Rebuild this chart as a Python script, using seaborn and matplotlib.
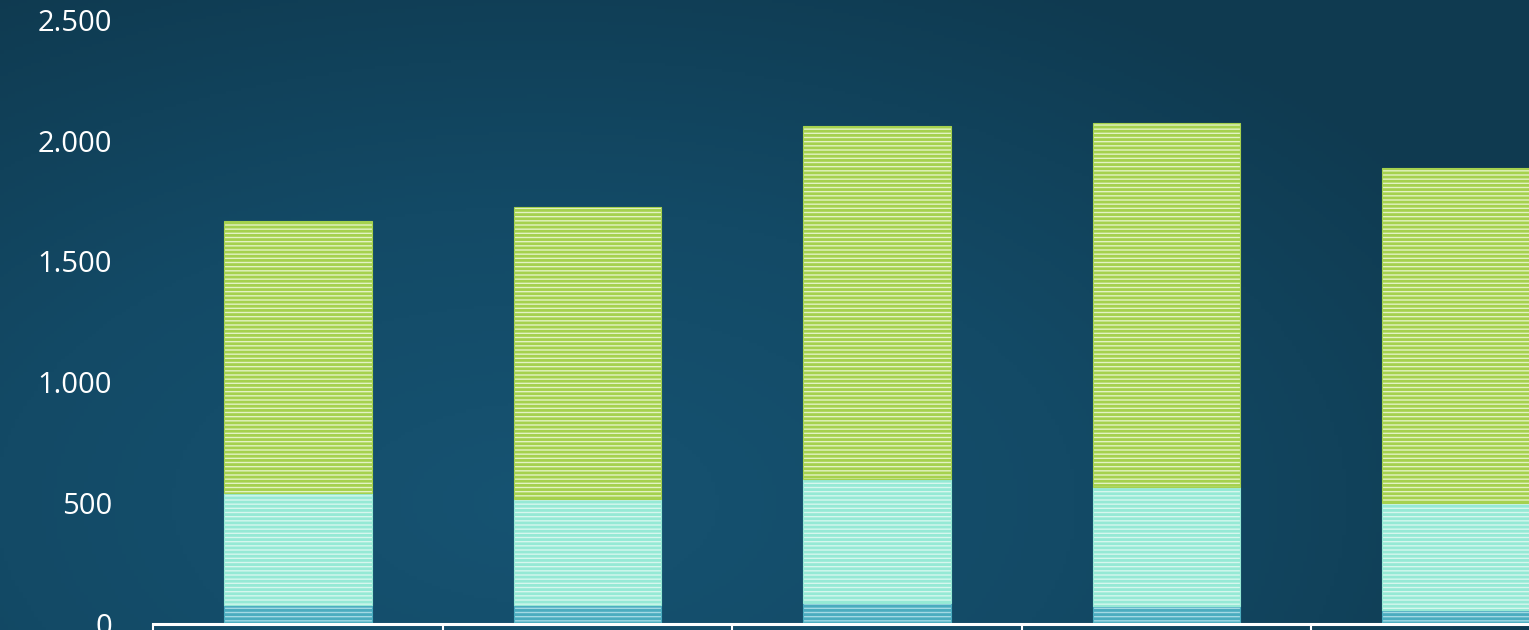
import matplotlib
matplotlib.use("Agg")
import matplotlib.pyplot as plt
import numpy as np
import seaborn as sns
from matplotlib.colors import LinearSegmentedColormap
from matplotlib.ticker import FuncFormatter

# data (segment sizes, bottom to top)
categories = ["A", "B", "C", "D", "E"]
blue_part = [79, 79, 87, 75, 58]
cyan_part = [463, 439, 513, 492, 443]
green_part = [1127, 1209, 1462, 1507, 1387]
y_ticks = [0, 500, 1000, 1500, 2000, 2500]

sns.set_theme(style="white")
plt.rcParams['font.family'] = ['Open Sans', 'DejaVu Sans']
plt.rcParams['hatch.linewidth'] = 2.0

fig = plt.figure(figsize=(15.29, 6.30), dpi=100)

# background gradient
bg = fig.add_axes([0, 0, 1, 1], zorder=-10)
yy, xx = np.mgrid[0:1:200j, 0:1:400j]
dist = np.sqrt(((xx - 0.35) * 1.2) ** 2 + ((yy - 0.8) * 0.9) ** 2)
cmap_bg = LinearSegmentedColormap.from_list("bg", ["#165372", "#134a66", "#0f3a50"])
bg.imshow(dist, cmap=cmap_bg, aspect="auto", extent=[0, 1, 0, 1], vmin=0, vmax=0.85)
bg.axis("off")

# the plot area runs past the right edge of the picture (last bar is cut)
ax = fig.add_axes([153 / 1529, 6 / 630, 1448 / 1529, 624 / 630])
ax.patch.set_alpha(0)

bottoms = np.zeros(len(categories))
layers = [
    (blue_part, "#a3d9e4", "#4aacbf"),
    (cyan_part, "#d6f7ee", "#95e9d5"),
    (green_part, "#e3f3c4", "#a5d14e"),
]
for vals, face, stripe in layers:
    sns.barplot(x=categories, y=vals, bottom=bottoms, color=face, saturation=1,
                edgecolor=stripe, linewidth=0.8, hatch="----", width=0.51, ax=ax)
    bottoms = bottoms + np.array(vals)

ax.set_xlim(-0.5, 4.5)
ax.set_ylim(0, 2582)
ax.set_yticks(y_ticks)
ax.yaxis.set_major_formatter(FuncFormatter(lambda v, p: f"{int(v):,}".replace(",", ".")))
ax.set_xticks([-0.5, 0.5, 1.5, 2.5, 3.5, 4.5])
ax.set_xticklabels([])
ax.tick_params(axis="y", length=0, pad=29.5, labelsize=21, labelcolor="white")
ax.tick_params(axis="x", direction="out", length=10, width=1.5, color="white", bottom=True)
for s in ["top", "right", "left"]:
    ax.spines[s].set_visible(False)
ax.spines["bottom"].set_color("white")
ax.spines["bottom"].set_linewidth(2.2)
ax.set_xlabel("")
ax.set_ylabel("")
ax.grid(False)

fig.savefig("out.png", dpi=100)
